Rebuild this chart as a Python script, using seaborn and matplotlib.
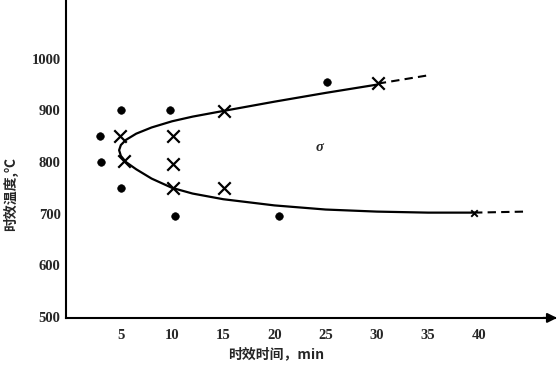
import matplotlib
matplotlib.use("Agg")
import matplotlib.pyplot as plt
import seaborn as sns
import pandas as pd

# no-sigma points (dots)
dot_t = [3.0, 3.05, 5.0, 5.0, 9.8, 10.3, 20.4, 25.1]
dot_T = [850, 801, 900, 750, 900, 695, 696, 955]

# sigma-forming points (crosses)
cross_t = [4.9, 5.3, 10.1, 10.1, 10.1, 15.1, 15.1, 30.1]
cross_T = [850, 802, 850, 797, 750, 899, 750, 953]
small_cross_t = [39.5]
small_cross_T = [702]

# C-curve boundary (upper end -> nose -> lower end)
curve_t = [30, 25, 20, 15, 12, 10, 8, 6.5, 5.5, 5.0, 4.83, 5.0, 5.5, 6.5, 8, 10, 12, 15, 20, 25, 30, 35, 39.5]
curve_T = [950, 934, 917, 899, 888, 879, 867, 855, 843, 833, 823, 812, 800, 786, 768, 750, 739, 728, 716, 708, 704, 702, 702]

# dashed extrapolations
dash_up_t = [30.1, 35.0]
dash_up_T = [952, 968]
dash_lo_t = [39.5, 44.5]
dash_lo_T = [702, 704]

x_ticks = [5, 10, 15, 20, 25, 30, 35, 40]
y_ticks = [500, 600, 700, 800, 900, 1000]

sns.set_style("white")
plt.rcParams['font.family'] = ['Liberation Serif', 'Noto Sans CJK SC', 'DejaVu Sans']
plt.rcParams['font.weight'] = 'bold'

fig = plt.figure(figsize=(5.6, 3.65), dpi=100)
ax = fig.add_axes([0.118, 0.129, 0.873, 0.871])

df_curve = pd.DataFrame({'t': curve_t, 'T': curve_T})
sns.lineplot(data=df_curve, x='t', y='T', sort=False, estimator=None,
             color='black', lw=1.6, ax=ax)
sns.lineplot(x=dash_up_t, y=dash_up_T, sort=False, estimator=None, color='black',
             lw=1.5, ax=ax, linestyle=(0, (4, 2.5)))
sns.lineplot(x=dash_lo_t, y=dash_lo_T, sort=False, estimator=None, color='black',
             lw=1.5, ax=ax, linestyle=(0, (4, 2.5)))

sns.scatterplot(x=dot_t, y=dot_T, color='black', s=30, edgecolor='black', ax=ax, zorder=3)
sns.scatterplot(x=cross_t, y=cross_T, color='black', marker='x', s=80, linewidth=1.6, ax=ax, zorder=3)
sns.scatterplot(x=small_cross_t, y=small_cross_T, color='black', marker='x', s=22, linewidth=1.4, ax=ax, zorder=3)

ax.text(24.4, 828, 'σ', fontsize=10.5, style='italic', ha='center', va='center',
        family=['Liberation Serif'])

ax.set_xlim(-0.35, 47.4)
ax.set_ylim(498, 1114)
ax.set_xticks(x_ticks)
ax.set_yticks(y_ticks)
ax.tick_params(direction='in', length=7, width=1.2, labelsize=10.5)
ax.tick_params(axis='x', pad=8)
ax.tick_params(axis='y', pad=4)
for lab in ax.get_xticklabels() + ax.get_yticklabels():
    lab.set_fontweight('bold')

for side in ['top', 'right']:
    ax.spines[side].set_visible(False)
for side in ['left', 'bottom']:
    ax.spines[side].set_linewidth(1.5)
    ax.spines[side].set_color('black')

ax.annotate('', xy=(1.01, 0), xytext=(0.97, 0), xycoords='axes fraction',
            arrowprops=dict(arrowstyle='-|>', color='black', lw=1.5,
                            mutation_scale=14), annotation_clip=False)

ax.set_xlabel('时效时间，min', fontsize=10, fontweight='bold',
              family=['Noto Sans CJK SC', 'DejaVu Sans'])
ax.set_ylabel('时效温度,℃', fontsize=10, fontweight='bold',
              family=['Noto Sans CJK SC', 'DejaVu Sans'])
ax.xaxis.set_label_coords(0.43, -0.093)
ax.yaxis.set_label_coords(-0.098, 0.39)

fig.savefig('out.png', dpi=100)
